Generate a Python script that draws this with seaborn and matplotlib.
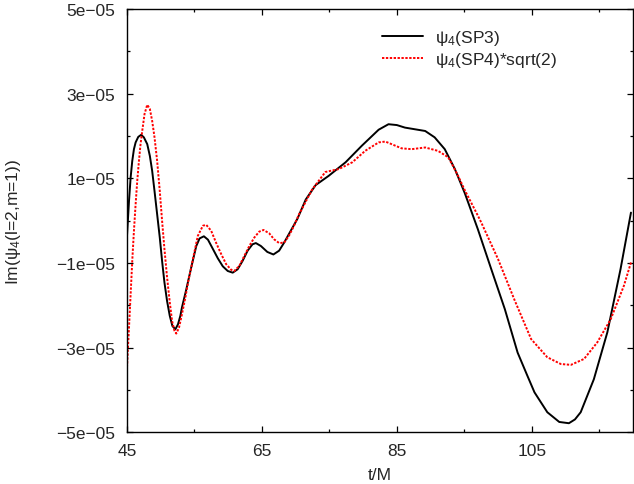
import numpy as np
import pandas as pd
import matplotlib
matplotlib.use("Agg")
import matplotlib.pyplot as plt
import seaborn as sns

# Datos (valores en unidades de 1e-05)
t_sp3 = [45.0, 45.3, 45.54, 45.78, 46.03, 46.28, 46.67, 47.1, 47.5, 48.0,
         48.39, 48.73, 49.08, 49.47, 49.86, 50.2, 50.55, 50.94, 51.34, 51.73,
         52.17, 52.56, 52.91, 53.15, 53.74, 54.53, 55.27, 55.76, 56.4, 57.0,
         57.7, 58.46, 59.2, 59.93, 60.67, 61.4, 62.14, 62.88, 63.6, 64.1,
         64.85, 65.8, 66.7, 67.55, 68.29, 69.27, 70.25, 71.5, 72.96, 74.9,
         77.4, 79.8, 82.3, 83.76, 85.0, 86.2, 87.7, 89.2, 90.6, 92.1,
         93.6, 95.07, 97.0, 99.0, 101.0, 102.9, 104.3, 105.4, 107.3, 109.07,
         110.5, 111.4, 112.25, 114.2, 116.2, 118.15, 119.7]
im_sp3 = [-0.36, 0.47, 1.02, 1.41, 1.69, 1.85, 1.98, 2.03, 1.97, 1.81,
          1.53, 1.18, 0.70, 0.15, -0.40, -0.95, -1.46, -1.90, -2.25, -2.49,
          -2.57, -2.45, -2.25, -2.05, -1.66, -1.10, -0.60, -0.42, -0.37, -0.45,
          -0.66, -0.89, -1.08, -1.19, -1.23, -1.15, -0.95, -0.71, -0.56, -0.53,
          -0.60, -0.74, -0.80, -0.71, -0.52, -0.24, 0.04, 0.50, 0.84, 1.06,
          1.38, 1.77, 2.15, 2.28, 2.26, 2.20, 2.16, 2.12, 1.97, 1.69,
          1.22, 0.65, -0.20, -1.15, -2.09, -3.12, -3.65, -4.06, -4.53, -4.76,
          -4.79, -4.70, -4.53, -3.75, -2.64, -1.15, 0.19]

t_sp4 = [45.0, 45.3, 45.54, 45.78, 46.03, 46.28, 46.52, 46.77, 47.01, 47.26,
         47.6, 48.0, 48.39, 48.73, 49.08, 49.47, 49.86, 50.2, 50.55, 50.94,
         51.34, 51.68, 52.03, 52.3, 52.71, 53.15, 53.65, 54.1, 54.53, 54.77,
         55.5, 56.25, 56.75, 57.48, 58.2, 58.96, 59.7, 60.43, 60.9, 61.65,
         62.4, 63.13, 63.87, 64.6, 65.24, 66.08, 66.8, 67.55, 68.29, 69.0,
         69.76, 70.5, 72.46, 74.4, 76.4, 78.4, 80.3, 82.3, 83.3, 85.7,
         87.2, 89.2, 91.1, 92.6, 93.3, 94.1, 95.07, 97.0, 97.5, 100.0,
         102.4, 104.9, 107.3, 109.3, 110.8, 112.75, 114.7, 116.7, 118.65, 119.7]
im_sp4 = [-3.47, -2.52, -1.74, -0.95, -0.24, 0.39, 0.94, 1.41, 1.81, 2.12,
          2.52, 2.74, 2.64, 2.36, 1.97, 1.41, 0.70, 0.0, -0.67, -1.34,
          -1.93, -2.37, -2.60, -2.67, -2.53, -2.21, -1.82, -1.42, -1.11, -0.91,
          -0.36, -0.12, -0.10, -0.24, -0.52, -0.79, -1.03, -1.16, -1.19, -1.07,
          -0.83, -0.60, -0.40, -0.26, -0.22, -0.30, -0.44, -0.53, -0.52, -0.36,
          -0.12, 0.15, 0.74, 1.15, 1.22, 1.38, 1.65, 1.85, 1.87, 1.71,
          1.69, 1.73, 1.65, 1.50, 1.30, 1.05, 0.72, 0.12, -0.04, -0.91,
          -1.86, -2.80, -3.23, -3.39, -3.41, -3.27, -2.88, -2.33, -1.54, -0.99]

x_ticks = [45, 65, 85, 105]
x_minor = [55, 75, 95, 115]
y_ticks = [-5e-05, -3e-05, -1e-05, 1e-05, 3e-05, 5e-05]
y_minor = [-4e-05, -2e-05, 0.0, 2e-05, 4e-05]
y_tick_labels = ["\u22125e\u221205", "\u22123e\u221205", "\u22121e\u221205",
                 "1e\u221205", "3e\u221205", "5e\u221205"]

df_sp3 = pd.DataFrame({"t": t_sp3, "im": np.array(im_sp3) * 1e-05})
df_sp4 = pd.DataFrame({"t": t_sp4, "im": np.array(im_sp4) * 1e-05})

sns.set_style("ticks")
plt.rcParams["font.family"] = ["Liberation Sans", "DejaVu Sans"]
plt.rcParams["mathtext.fontset"] = "custom"
plt.rcParams["mathtext.rm"] = "Liberation Sans"
plt.rcParams["mathtext.it"] = "Liberation Sans"
plt.rcParams["font.size"] = 12.5

fig = plt.figure(figsize=(6.34, 4.85), dpi=100)
ax = fig.add_axes([0.2003, 0.107, 0.7981, 0.872])

sns.lineplot(data=df_sp3, x="t", y="im", ax=ax, color="black", lw=1.4,
             estimator=None, sort=False, label="\u03c8$_4$(SP3)")
sns.lineplot(data=df_sp4, x="t", y="im", ax=ax, color="red", lw=1.4,
             estimator=None, sort=False, label="\u03c8$_4$(SP4)*sqrt(2)")
ax.lines[1].set_dashes((1.2, 0.8))

ax.set_xlim(45, 120)
ax.set_ylim(-5e-05, 5e-05)
ax.set_xticks(x_ticks)
ax.set_xticks(x_minor, minor=True)
ax.set_yticks(y_ticks)
ax.set_yticks(y_minor, minor=True)
ax.set_yticklabels(y_tick_labels)
ax.tick_params(which="both", direction="in", top=True, right=True,
               color="black", width=0.9)
ax.tick_params(which="major", length=4.5)
ax.tick_params(which="minor", length=2.3)
ax.tick_params(axis="x", which="major", pad=8, labelsize=12.5)
ax.tick_params(axis="y", which="major", pad=8.5, labelsize=12.5)
for s in ax.spines.values():
    s.set_visible(True)
    s.set_linewidth(1.0)
    s.set_color("black")

ax.set_xlabel("t/M", labelpad=6)
ax.set_ylabel("Im(\u03c8$_4$(l=2,m=1))")
ax.yaxis.set_label_coords(-0.205, 0.5)

leg = ax.legend(loc="upper left", bbox_to_anchor=(0.503, 0.955), frameon=False,
                handlelength=2.4, handletextpad=0.7, labelspacing=0.15,
                borderpad=0, borderaxespad=0, fontsize=12.5)

fig.savefig("out.png", dpi=100)
